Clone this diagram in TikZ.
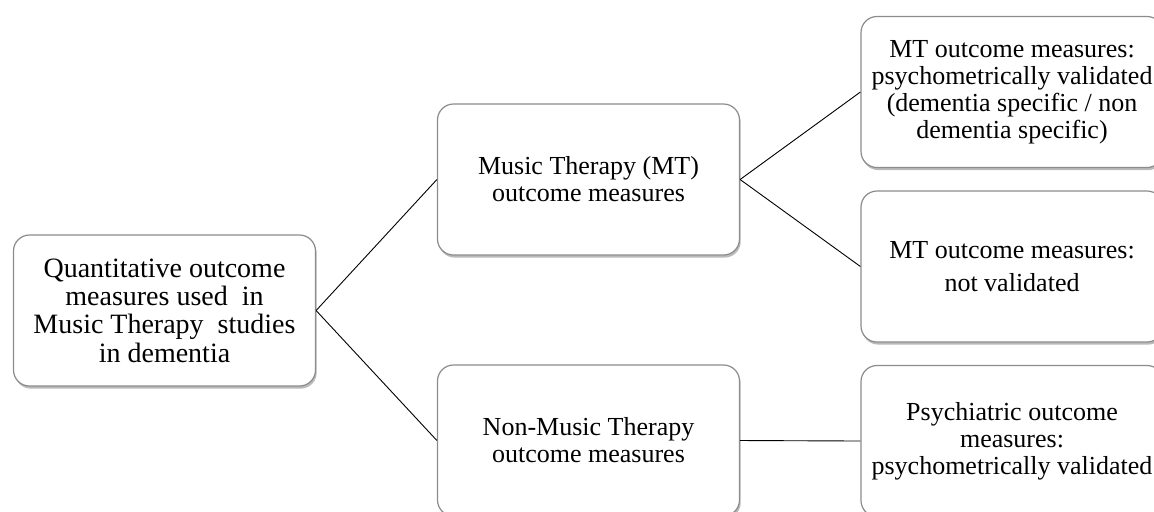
\documentclass[tikz,border=0pt]{standalone}
\usepackage{fontspec}
\setmainfont{Liberation Serif}
\usepackage{tikz}
\usetikzlibrary{positioning}
\usetikzlibrary{shapes.geometric, arrows, shadows}

\tikzset{
    outbox/.style={align=center, rectangle, rounded corners=8pt, draw=black!45, line width=0.6pt, fill=white,
        minimum width=151pt, minimum height=75.5pt, inner sep=2pt,
        font=\fontsize{13pt}{13.5pt}\selectfont,
        drop shadow={shadow xshift=0.6pt, shadow yshift=-1.3pt, fill=black!60, opacity=0.45}},
    rootbox/.style={outbox, font=\fontsize{14pt}{14.2pt}\selectfont},
    link/.style={draw=black, line width=0.45pt}
}

\begin{document}
\begin{tikzpicture}[x=0.5pt, y=-0.5pt]
            \clip (0,0) rectangle (1154,511);
            \node (Root) at (164.5,310.5) [rootbox]{Quantitative outcome\\measures used\ \ in\\Music Therapy\ \ studies\\in dementia};
            \node (MT) at (588.5,179.5) [outbox]{Music Therapy (MT)\\outcome measures};
            \node (NonMT) at (588.5,440.5) [outbox]{Non-Music Therapy\\outcome measures};
            \node (Valid) at (1012,92) [outbox]{MT outcome measures:\\psychometrically validated\\(dementia specific / non\\dementia specific)};
            \node (NotValid) at (1012,266.5) [outbox]{MT outcome measures:\\[3pt]not validated};
            \node (Psych) at (1012,441) [outbox]{Psychiatric outcome\\measures:\\psychometrically validated};
            \draw[link] (Root.east) -- (MT.west);
            \draw[link] (Root.east) -- (NonMT.west);
            \draw[link] (MT.east) -- (Valid.west);
            \draw[link] (MT.east) -- (NotValid.west);
            \draw[link] (NonMT.east) -- (Psych.west);

        \end{tikzpicture}
\end{document}
